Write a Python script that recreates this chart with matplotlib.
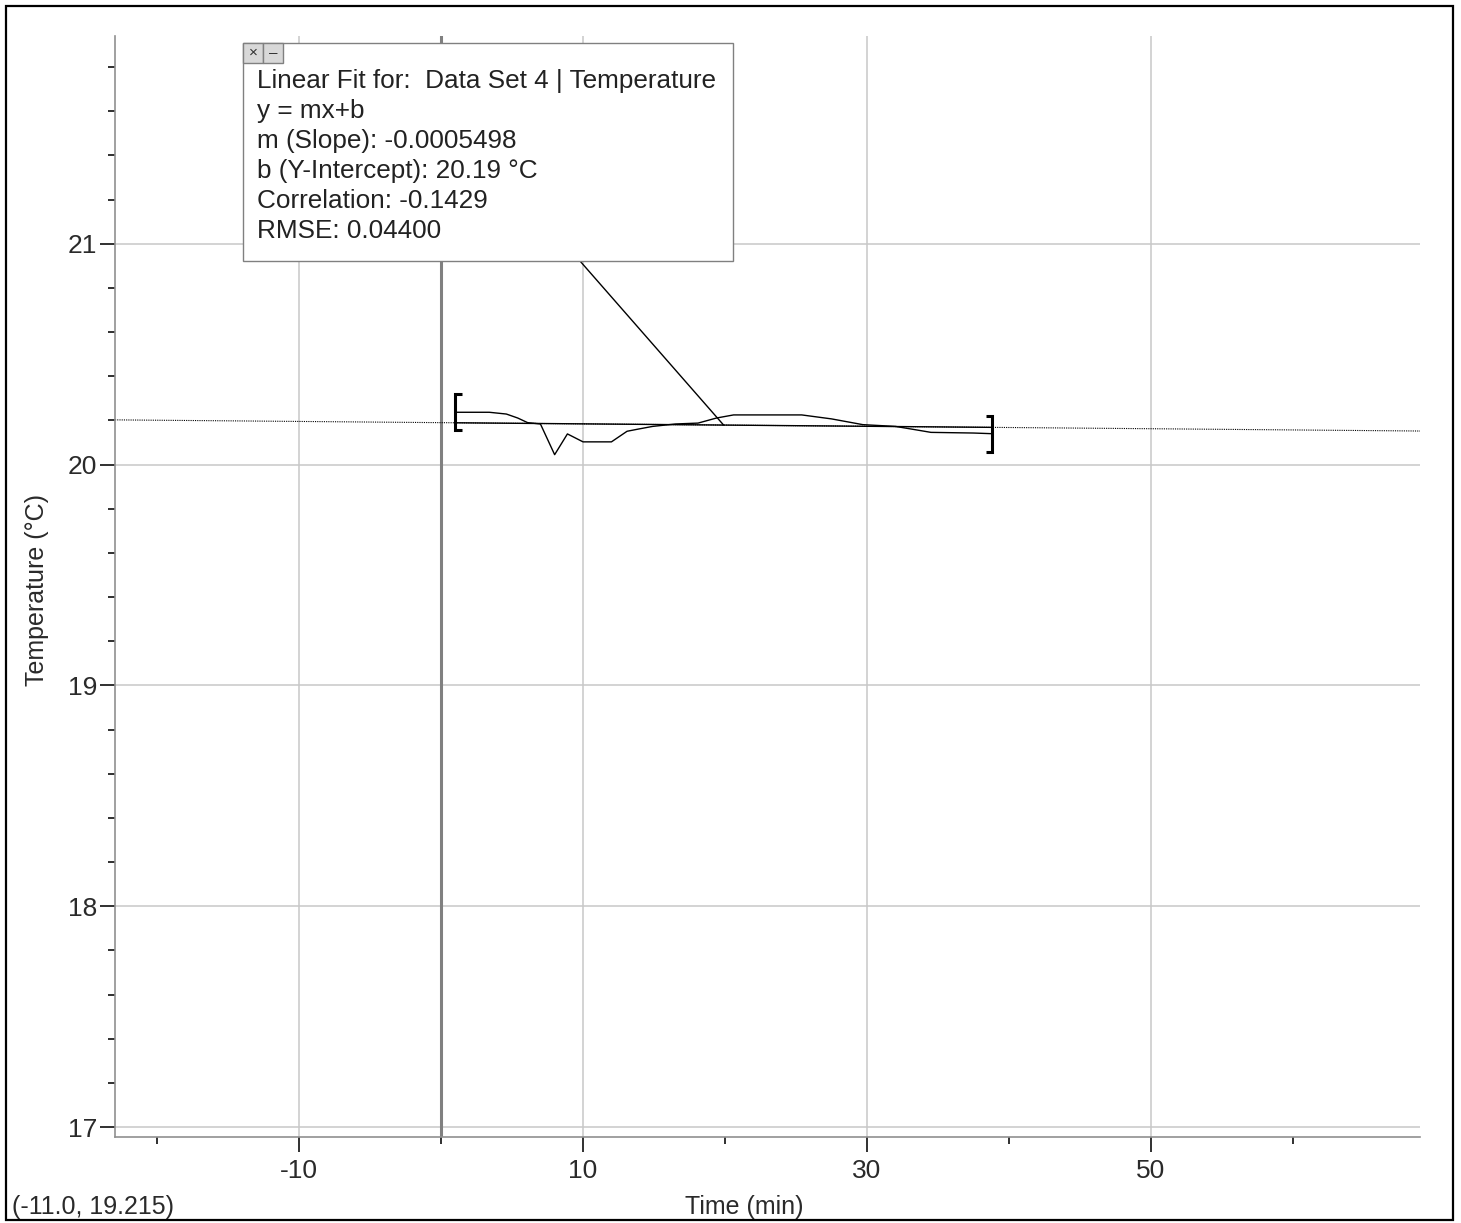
import matplotlib
matplotlib.use('Agg')
import matplotlib.pyplot as plt
from matplotlib.patches import Rectangle
import numpy as np

plt.rcParams['font.family'] = ['Liberation Sans', 'DejaVu Sans']

# 数据：时间 (min) 与温度 (°C)
time_min = [1.0, 3.4, 4.6, 5.4, 6.1, 7.0, 8.0, 8.9, 10.0, 12.0, 13.1, 13.9, 14.9,
            16.5, 18.1, 19.4, 20.6, 25.4, 27.5, 29.7, 32.0, 33.4, 34.5, 37.5, 38.8]
temp_c = [20.237, 20.237, 20.229, 20.211, 20.190, 20.184, 20.045, 20.139, 20.103,
          20.103, 20.151, 20.161, 20.173, 20.184, 20.188, 20.211, 20.225, 20.225,
          20.207, 20.181, 20.173, 20.158, 20.146, 20.143, 20.140]

# 线性拟合参数
slope = -0.0005498
intercept = 20.19
fit_lines = ['Linear Fit for:  Data Set 4 | Temperature',
             'y = mx+b',
             'm (Slope): -0.0005498',
             'b (Y-Intercept): 20.19 \u00b0C',
             'Correlation: -0.1429',
             'RMSE: 0.04400']

x_major = [-10, 10, 30, 50]
x_minor = [-20, 0, 20, 40, 60]
y_major = [17, 18, 19, 20, 21]
xlim = (-22.96, 68.94)
ylim = (16.955, 21.941)

W, H = 1461, 1223
fig = plt.figure(figsize=(W / 100, H / 100), dpi=100)


def fx(px):
    return px / W


def fy(py):
    return 1 - py / H


ax = fig.add_axes([fx(115), fy(1137), fx(1420) - fx(115), fy(36) - fy(1137)])
ax.set_xlim(*xlim)
ax.set_ylim(*ylim)

# 网格
for v in x_major:
    ax.axvline(v, color='#c8c8c8', lw=1.1, zorder=0)
for v in y_major:
    ax.axhline(v, color='#c8c8c8', lw=1.1, zorder=0)
ax.axvline(0, color='#808080', lw=2.2, zorder=1)

# 拟合线（外推用虚线）
xx = np.array(xlim)
ax.plot(xx, slope * xx + intercept, color='black', lw=0.8, ls=(0, (1, 1)), zorder=2)
x0, x1 = time_min[0], time_min[-1]
ax.plot([x0, x1], [slope * x0 + intercept, slope * x1 + intercept], color='black', lw=1.0, zorder=3)

# 数据
ax.plot(time_min, temp_c, color='black', lw=1.0, zorder=3)

# 区间括号
h = 0.082
hk = 0.45
ya = temp_c[0]
ax.plot([x0 + hk, x0, x0, x0 + hk], [ya + h, ya + h, ya - h, ya - h], color='black', lw=2.2,
        solid_capstyle='butt', solid_joinstyle='miter', zorder=4)
yb = temp_c[-1]
ax.plot([x1 - hk, x1, x1, x1 - hk], [yb + h, yb + h, yb - h, yb - h], color='black', lw=2.2,
        solid_capstyle='butt', solid_joinstyle='miter', zorder=4)

# 坐标轴样式
for s in ['top', 'right']:
    ax.spines[s].set_visible(False)
for s in ['left', 'bottom']:
    ax.spines[s].set_color('#909090')
    ax.spines[s].set_linewidth(1.2)

ax.set_xticks(x_major)
ax.set_xticklabels([str(v) for v in x_major])
ax.set_xticks(x_minor, minor=True)
ax.set_yticks(y_major)
ax.set_yticklabels([str(v) for v in y_major])
ax.set_yticks(np.arange(17, 21.81, 0.2), minor=True)
ax.tick_params(axis='both', which='major', direction='out', length=11, width=1.4,
               color='#303030', labelsize=19, labelcolor='#2a2a2a')
ax.tick_params(axis='both', which='minor', direction='out', length=5, width=1.4, color='#303030')
ax.tick_params(axis='x', which='major', pad=5)
ax.tick_params(axis='y', which='major', pad=2)

# 标签
fig.text(fx(744), fy(1207), 'Time (min)', ha='center', va='center', fontsize=18, color='#2a2a2a')
fig.text(fx(37), fy(590), 'Temperature (\u00b0C)', ha='center', va='center', rotation=90,
         fontsize=18, color='#2a2a2a')
fig.text(fx(12), fy(1207), '(-11.0, 19.215)', ha='left', va='center', fontsize=18, color='#2a2a2a')

# 拟合信息框
box = Rectangle((fx(243), fy(261)), fx(733) - fx(243), fy(43) - fy(261), transform=fig.transFigure,
                facecolor='white', edgecolor='#808080', lw=1.0, zorder=10)
fig.patches.append(box)
for bx, sym in [(243, '\u00d7'), (263, '\u2013')]:
    b = Rectangle((fx(bx), fy(63)), fx(20), fy(43) - fy(63), transform=fig.transFigure,
                  facecolor='#d8d8d8', edgecolor='#808080', lw=1.0, zorder=11)
    fig.patches.append(b)
    fig.text(fx(bx + 10), fy(53), sym, ha='center', va='center', fontsize=11, color='#303030', zorder=12)
for i, line in enumerate(fit_lines):
    fig.text(fx(257), fy(88 + 30 * i), line, ha='left', va='baseline', fontsize=18.8,
             color='#222222', zorder=12)

# 引线
ax.annotate('', xy=(19.9, slope * 19.9 + intercept), xycoords='data',
            xytext=(fx(580), fy(261)), textcoords='figure fraction',
            arrowprops=dict(arrowstyle='-', color='black', lw=1.0, shrinkA=0, shrinkB=0), zorder=5)

# 外框
border = Rectangle((fx(6), fy(1220)), fx(1453) - fx(6), fy(6) - fy(1220), transform=fig.transFigure,
                   facecolor='none', edgecolor='black', lw=1.6, zorder=20)
fig.patches.append(border)

fig.savefig('out.png', dpi=100)
